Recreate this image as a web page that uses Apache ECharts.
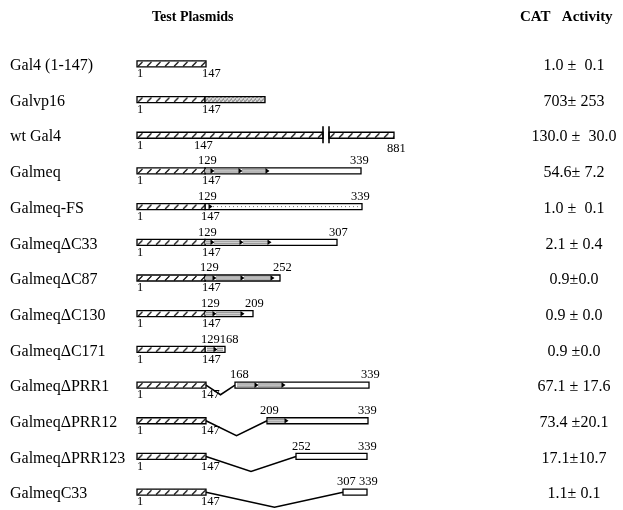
<!DOCTYPE html>
<html>
<head>
<meta charset="utf-8">
<script src="https://cdn.jsdelivr.net/npm/echarts@6/dist/echarts.min.js"></script>
<style>html,body{margin:0;padding:0;background:#fff}#c{width:623px;height:510px}</style>
</head>
<body>
<div id="c"></div>
<script>
// ---- data ----
const names = ['Gal4 (1-147)','Galvp16','wt Gal4','Galmeq','Galmeq-FS','Galmeq\u0394C33','Galmeq\u0394C87',
  'Galmeq\u0394C130','Galmeq\u0394C171','Galmeq\u0394PRR1','Galmeq\u0394PRR12','Galmeq\u0394PRR123','GalmeqC33'];
const activity = ['1.0 \u00b1  0.1','703\u00b1 253','130.0 \u00b1  30.0','54.6\u00b1 7.2','1.0 \u00b1  0.1','2.1 \u00b1 0.4',
  '0.9\u00b10.0','0.9 \u00b1 0.0','0.9 \u00b10.0','67.1 \u00b1 17.6','73.4 \u00b120.1','17.1\u00b110.7','1.1\u00b1 0.1'];
// schematic map positions along the diagram axis: [row, start, end]
const gal4Parts = [[0,137,206],[1,137,205],[2,137,323],[2,329,394],[3,137,205],[4,137,205],[5,137,205],
  [6,137,205],[7,137,205],[8,137,205],[9,137,206],[10,137,206],[11,137,206],[12,137,206]];
const vp16Parts = [[1,205,265]];
const meqParts = [[3,205,361],[4,205,362],[5,205,337],[6,205,280],[7,205,253],[8,205,225],
  [9,235,369],[10,267,368],[11,296,367],[12,343,367]];
const prrParts = [[3,205,212],[3,214,240],[3,242,267],[5,205,212],[5,214,241],[5,243,269],
  [6,205,214],[6,216,242],[6,244,272],[7,205,214],[7,216,242],[8,207,215],[8,217,223],
  [9,237,256],[9,258,283],[10,268,285]];
const prrMarks = [[3,213],[3,241],[3,268],[4,211],[5,213],[5,242],[5,270],[6,215],[6,243],[6,273],
  [7,215],[7,243],[8,216],[9,257],[9,284],[10,287]];
const frameShift = [[4,213,360]];
const deletions = [[9,206,235],[10,206,267],[11,206,296],[12,206,343]];
const breaks = [[2,323,329]];
// residue numbers: [row, position, text, side(a=above,b=below)]
const residueLabels = [
  [0,137,'1','b'],[0,202,'147','b'],
  [1,137,'1','b'],[1,202,'147','b'],
  [2,137,'1','b'],[2,194,'147','b'],[2,387,'881','b2'],
  [3,198,'129','a'],[3,350,'339','a'],[3,137,'1','b'],[3,202,'147','b'],
  [4,198,'129','a'],[4,351,'339','a'],[4,137,'1','b'],[4,201,'147','b'],
  [5,198,'129','a'],[5,329,'307','a'],[5,137,'1','b'],[5,202,'147','b'],
  [6,200,'129','a'],[6,273,'252','a'],[6,137,'1','b'],[6,202,'147','b'],
  [7,201,'129','a'],[7,245,'209','a'],[7,137,'1','b'],[7,202,'147','b'],
  [8,201,'129168','a'],[8,137,'1','b'],[8,202,'147','b'],
  [9,230,'168','a'],[9,361,'339','a'],[9,137,'1','b'],[9,201,'147','b'],
  [10,260,'209','a'],[10,358,'339','a'],[10,137,'1','b'],[10,201,'147','b'],
  [11,292,'252','a'],[11,358,'339','a'],[11,137,'1','b'],[11,201,'147','b'],
  [12,337,'307 339','a'],[12,137,'1','b'],[12,201,'147','b']
];

// ---- styles ----
const SERIF = '"Liberation Serif", "DejaVu Serif", serif';
const BAR_H = 6;
function makeHatch(){
  const c = document.createElement('canvas'); c.width = 9; c.height = 6;
  const g = c.getContext('2d'); g.fillStyle = '#fff'; g.fillRect(0,0,9,6);
  g.strokeStyle = '#000'; g.lineWidth = 1.1; g.beginPath(); g.moveTo(1,5.5); g.lineTo(5.5,1); g.stroke();
  return c;
}
function makeStipple(){
  const c = document.createElement('canvas'); c.width = 4; c.height = 4;
  const g = c.getContext('2d'); g.fillStyle = '#d6d6d6'; g.fillRect(0,0,4,4);
  g.fillStyle = '#666'; g.fillRect(0,0,1,1); g.fillRect(2,2,1,1); g.fillRect(3,0,1,1); g.fillRect(1,3,1,1);
  return c;
}
const hatch = makeHatch(), stipple = makeStipple();

function barRender(fillFn, stroke){
  return function(params, api){
    const row = api.value(0);
    const p0 = api.coord([api.value(1), row]);
    const p1 = api.coord([api.value(2), row]);
    const y = p0[1] - BAR_H/2;
    return { type:'rect', x: p0[0], y: y,
      shape:{x:0, y:0, width: p1[0]-p0[0], height: BAR_H},
      style:{fill: fillFn(), stroke: stroke ? '#000' : null, lineWidth: 1.3} };
  };
}
function textColumn(list, xPos, align, dy){
  return function(params, api){
    const row = api.value(0);
    const p = api.coord([xPos, row]);
    return {type:'text', style:{text: list[row], x: p[0], y: p[1] + dy, font: '16px ' + SERIF, fill:'#000',
      textAlign: align, align: align, textVerticalAlign:'middle', verticalAlign:'middle'}};
  };
}
const rowIdx = names.map((n, i) => [i]);

const chart = echarts.init(document.getElementById('c'), null, {renderer:'canvas'});
const option = {
  animation: false,
  backgroundColor: '#fff',
  title: [
    {text:'Test Plasmids', left:152, top:10, padding:0, textStyle:{fontFamily:SERIF, fontWeight:'bold', fontSize:14, color:'#000'}},
    {text:'CAT   Activity', left:520, top:10, padding:0, textStyle:{fontFamily:SERIF, fontWeight:'bold', fontSize:15, color:'#000'}}
  ],
  grid: {left:0, right:0, top:46, height:469},
  xAxis: {type:'value', min:0, max:623, show:false},
  yAxis: {type:'category', data:names, inverse:true, show:false},
  series: [
    {type:'custom', name:'names', data: rowIdx, renderItem: textColumn(names, 10, 'left', 2)},
    {type:'custom', name:'activity', data: rowIdx, renderItem: textColumn(activity, 574, 'center', 2)},
    {type:'custom', name:'meq', data: meqParts, renderItem: barRender(()=>'#fff', true)},
    {type:'custom', name:'Gal4', data: gal4Parts, renderItem: barRender(()=>({image:hatch, repeat:'repeat'}), true)},
    {type:'custom', name:'VP16', data: vp16Parts, renderItem: barRender(()=>({image:stipple, repeat:'repeat'}), true)},
    {type:'custom', name:'PRR', data: prrParts, renderItem: function(params, api){
      const row = api.value(0);
      const p0 = api.coord([api.value(1), row]), p1 = api.coord([api.value(2), row]);
      return {type:'group', children:[
        {type:'rect', shape:{x:p0[0], y:p0[1]-BAR_H/2+1.2, width:p1[0]-p0[0], height:BAR_H-2.4}, style:{fill:'#9a9a9a'}},
        {type:'line', shape:{x1:p0[0], y1:p0[1], x2:p1[0], y2:p0[1]}, style:{stroke:'#eee', lineWidth:0.8}}
      ]};
    }},
    {type:'custom', name:'FS', data: frameShift, renderItem: function(params, api){
      const row = api.value(0);
      const p0 = api.coord([api.value(1), row]), p1 = api.coord([api.value(2), row]);
      return {type:'line', shape:{x1:p0[0], y1:p0[1], x2:p1[0], y2:p0[1]}, style:{stroke:'#777', lineWidth:1, lineDash:[1,3]}};
    }},
    {type:'custom', name:'marks', data: prrMarks, renderItem: function(params, api){
      const p = api.coord([api.value(1), api.value(0)]);
      return {type:'polygon', shape:{points:[[p[0]-2.5,p[1]-2.8],[p[0]+1.5,p[1]],[p[0]-2.5,p[1]+2.8]]}, style:{fill:'#000'}};
    }},
    {type:'custom', name:'deletions', data: deletions, renderItem: function(params, api){
      const row = api.value(0);
      const a = api.coord([api.value(1), row]), b = api.coord([api.value(2), row]);
      const depth = Math.min(15, (b[0]-a[0])/3);
      return {type:'polyline', shape:{points:[[a[0], a[1]], [(a[0]+b[0])/2, a[1]+depth], [b[0], b[1]]]},
        style:{stroke:'#000', lineWidth:1.5, fill:null}};
    }},
    {type:'custom', name:'breaks', data: breaks, renderItem: function(params, api){
      const row = api.value(0);
      const a = api.coord([api.value(1), row]), b = api.coord([api.value(2), row]);
      return {type:'group', children:[
        {type:'line', shape:{x1:a[0], y1:a[1]-9, x2:a[0], y2:a[1]+8}, style:{stroke:'#000', lineWidth:1.6}},
        {type:'line', shape:{x1:b[0], y1:b[1]-9, x2:b[0], y2:b[1]+8}, style:{stroke:'#000', lineWidth:1.6}}
      ]};
    }},
    {type:'custom', name:'residues', data: residueLabels, renderItem: function(params, api){
      const item = residueLabels[params.dataIndex];
      const p = api.coord([item[1], item[0]]);
      const above = item[3] === 'a';
      const extra = item[3] === 'b2' ? 3 : 0;
      return {type:'text', style:{text:item[2], x:p[0], y: above ? p[1]-BAR_H/2 - 0.5 : p[1]+BAR_H/2 + 0.5 + extra,
        font:'12.5px ' + SERIF, fill:'#000', textAlign:'left', align:'left',
        textVerticalAlign: above ? 'bottom' : 'top', verticalAlign: above ? 'bottom' : 'top'}};
    }}
  ]
};
chart.setOption(option);
</script>
</body>
</html>
